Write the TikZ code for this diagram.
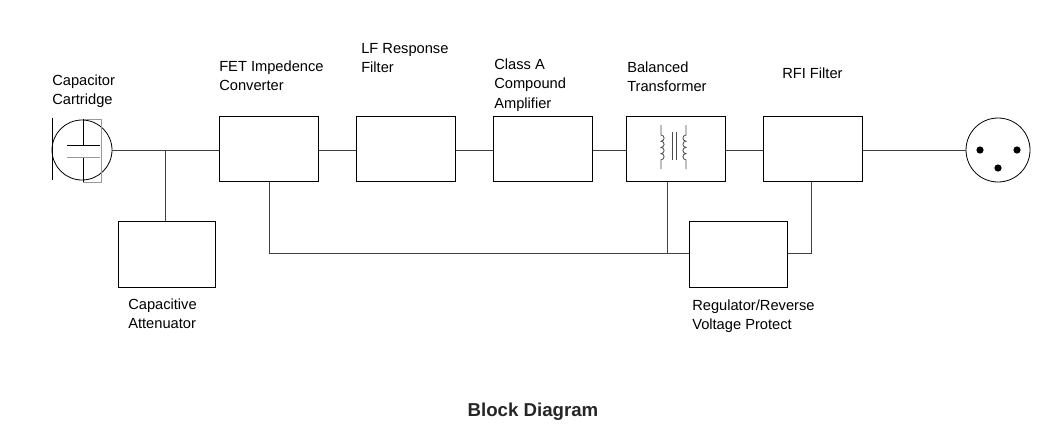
\documentclass[tikz,border=0pt]{standalone}
\usepackage{fontspec}
\setmainfont{Liberation Sans}
\begin{document}
\begin{tikzpicture}[x=0.75pt,y=-0.75pt,
  blk/.style={draw,line width=0.8pt,minimum width=74.25pt,minimum height=48.75pt,inner sep=0,anchor=north west},
  lbl/.style={anchor=north west,align=left,font=\fontsize{11pt}{14.3pt}\selectfont,inner sep=0},
  ln/.style={line width=0.6pt,draw=black!75}]
\useasboundingbox (0,0) rectangle (1037,436);
% blocks
\node[blk] (fet) at (219,116) {};
\node[blk] (lf) at (356,116) {};
\node[blk] (cla) at (493,116) {};
\node[blk] (tr) at (626,116) {};
\node[blk] (rfi) at (763,116) {};
\node[blk,minimum width=72.75pt,minimum height=49.5pt] (att) at (118,221) {};
\node[blk,minimum width=73.5pt,minimum height=49.5pt] (reg) at (689,221) {};
% cartridge
\node[circle,draw,line width=0.6pt,minimum size=45pt,inner sep=0] (cap) at (82,150) {};
\draw[line width=0.7pt] (52,118) -- (52,180);
\draw[draw=black!40,line width=0.6pt] (83,119) -- (101,119) -- (101,182) -- (83,182);
\draw[line width=0.6pt] (83,119) -- (83,145) (67,145) -- (100,145);
\draw[line width=0.6pt] (83,157) -- (83,182);
\draw[draw=black!40,line width=0.6pt] (67,157) -- (100,157);
% xlr
\node[circle,draw,line width=0.6pt,minimum size=48pt,inner sep=0] (xlr) at (998,150) {};
\fill (980,150) circle (3.6) (1017,150) circle (3.6) (998,168) circle (3.6);
% connectors
\coordinate (j1) at (165,150);
\draw[ln] (cap.east) -- (fet.west |- cap.east);
\draw[ln] (j1) -- (j1 |- att.north);
\draw[ln] (fet.east |- cap.east) -- (lf.west |- cap.east);
\draw[ln] (lf.east |- cap.east) -- (cla.west |- cap.east);
\draw[ln] (cla.east |- cap.east) -- (tr.west |- cap.east);
\draw[ln] (tr.east |- cap.east) -- (rfi.west |- cap.east);
\draw[ln] (rfi.east |- cap.east) -- (xlr.west);
\coordinate (b1) at (269,253);
\coordinate (b2) at (667,253);
\coordinate (b3) at (811,253);
\draw[ln] (b1 |- fet.south) -- (b1) -- (reg.west |- b1);
\draw[ln] (b2 |- tr.south) -- (b2);
\draw[ln] (b3 |- rfi.south) -- (b3) -- (reg.east |- b1);
% transformer symbol
\begin{scope}[draw=black!70,line width=0.6pt]
\draw (661,125) -- (661,135)
  \foreach \i in {0,...,3}{ arc[start angle=-90,end angle=90,radius=3.1] } -- (661,169);
\draw (686,125) -- (686,135)
  \foreach \i in {0,...,3}{ arc[start angle=270,end angle=90,radius=3.1] } -- (686,169);
\draw (672,132) -- (672,160) (676,132) -- (676,160);
\end{scope}
% labels
\node[lbl] at (52,75) {Capacitor\\Cartridge};
\node[lbl] at (219,61) {FET Impedence\\Converter};
\node[lbl] at (361,43) {LF Response\\Filter};
\node[lbl] at (494,59) {Class A\\Compound\\Amplifier};
\node[lbl] at (627,62) {Balanced\\Transformer};
\node[lbl] at (782,68) {RFI Filter};
\node[lbl] at (128,299) {Capacitive\\Attenuator};
\node[lbl] at (692,300) {Regulator/Reverse\\Voltage Protect};
\node[font=\bfseries\fontsize{14pt}{16pt}\selectfont,text=black!85] at (533,412) {Block Diagram};
\end{tikzpicture}
\end{document}
